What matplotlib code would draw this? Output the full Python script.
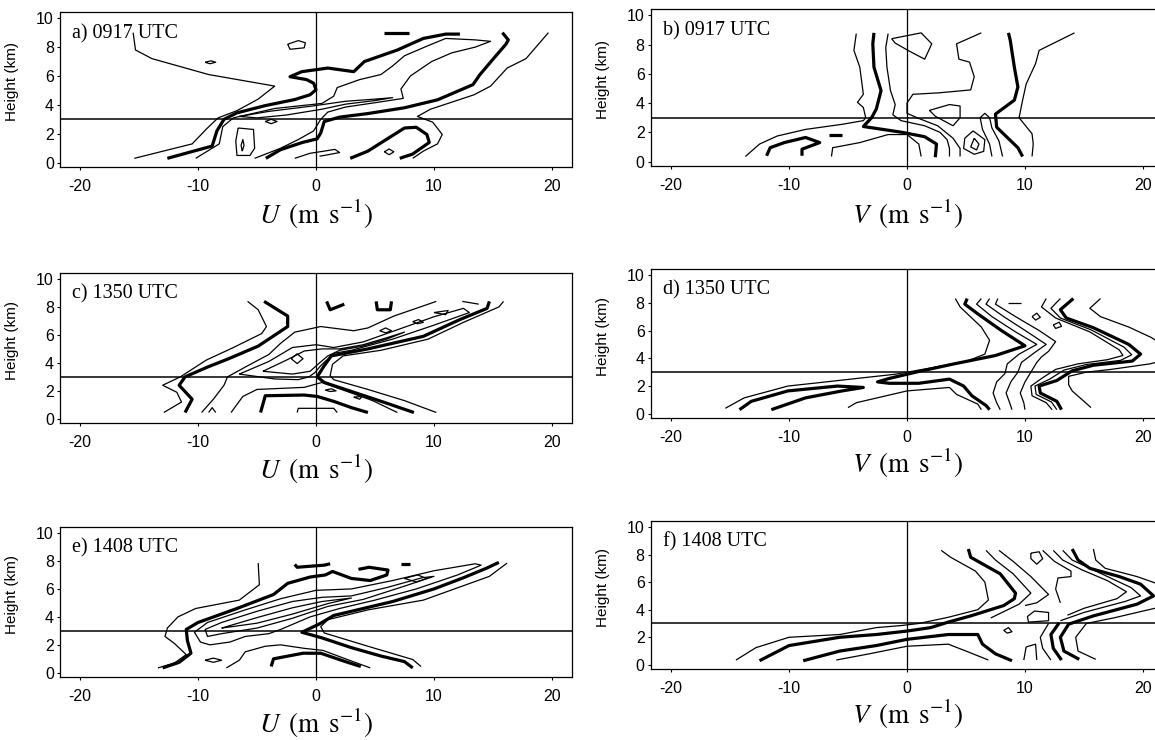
import numpy as np
import matplotlib
matplotlib.use('Agg')
import matplotlib.pyplot as plt

plt.rcParams['font.family'] = ['Liberation Sans', 'DejaVu Sans']
plt.rcParams['mathtext.fontset'] = 'stix'
plt.rcParams['axes.unicode_minus'] = False

# Contour lines of the wind-by-height frequency diagrams, as (wind m/s, height km)

# a) U at 0917 UTC
a_thin_left = [(-15.5, 9.0), (-15.3, 7.8), (-13.9, 7.2), (-9.1, 6.1), (-3.5, 5.3), (-4.9, 4.4),
               (-6.7, 3.6), (-8.3, 3.1), (-9.2, 2.4), (-10.5, 1.3), (-15.4, 0.3)]
a_thin_right = [(19.7, 9.0), (17.8, 7.2), (16.2, 6.55), (14.8, 5.3), (13.4, 4.7), (9.7, 3.7),
                (8.6, 3.2), (9.9, 2.8), (10.7, 1.95), (10.3, 1.3), (9.1, 0.8), (8.2, 0.3)]
a_thick_left = [(-12.6, 0.3), (-8.8, 1.15), (-8.4, 2.2), (-7.8, 3.0), (-6.7, 3.45), (-4.3, 3.95),
                (-1.8, 4.37), (-0.5, 4.7), (0.0, 5.05), (-0.2, 5.5), (-0.8, 5.75), (-2.2, 5.95),
                (-1.2, 6.3), (1.0, 6.55), (3.2, 6.3), (4.1, 7.0), (6.9, 7.8), (9.1, 8.6),
                (11.0, 8.9), (12.2, 8.9)]
a_thick_right = [(15.8, 9.0), (16.3, 8.5), (16.1, 8.2), (15.2, 7.35), (13.9, 6.1), (13.3, 5.4),
                 (10.3, 4.35), (7.5, 3.8), (4.4, 3.4), (2.0, 3.15), (0.7, 2.85), (0.4, 2.05),
                 (0.1, 1.65), (-1.15, 1.4), (-3.0, 0.9), (-4.25, 0.3)]
a_thick_low = [(2.9, 0.3), (4.4, 0.8), (7.5, 2.4), (8.5, 2.45), (9.4, 1.95), (9.6, 1.4),
               (8.2, 0.6), (7.1, 0.3)]
a_thick_top = [(5.8, 9.0), (7.9, 9.0)]
a_thin_mid = [(-10.2, 0.3), (-8.2, 1.3), (-7.9, 2.5), (-7.0, 3.1), (-3.5, 3.75), (0.5, 4.1),
              (1.5, 4.6), (1.8, 5.2), (3.7, 5.75), (5.5, 6.1), (6.5, 6.7), (7.5, 7.4),
              (9.5, 8.1), (11.0, 8.6), (13.5, 8.5), (14.8, 8.4), (13.5, 8.0), (11.5, 7.6),
              (9.8, 7.0), (8.0, 6.0), (7.2, 5.1), (7.4, 4.45), (5.0, 4.15), (2.5, 3.85),
              (1.0, 3.5), (0.4, 3.0), (-0.2, 2.2), (-1.5, 1.6), (-3.0, 1.0), (-5.2, 0.3)]
a_band_loop = [(-6.5, 3.2), (-4.0, 3.55), (-0.5, 3.9), (2.5, 4.25), (5.0, 4.4), (6.5, 4.5),
               (5.0, 4.3), (2.5, 4.05), (0.5, 3.7), (-2.5, 3.3), (-5.0, 3.1), (-6.5, 3.2)]
a_loop_core = [(-6.6, 2.4), (-5.3, 2.3), (-5.2, 1.0), (-5.6, 0.5), (-6.7, 0.5), (-6.8, 1.5), (-6.6, 2.4)]
a_loop_tear = [(-6.25, 0.8), (-6.1, 1.2), (-6.2, 1.6), (-6.35, 1.2), (-6.25, 0.8)]
a_loop_s1 = [(-4.3, 2.85), (-3.8, 3.0), (-3.3, 2.85), (-3.8, 2.7), (-4.3, 2.85)]
a_loop_top = [(-2.4, 8.2), (-1.5, 8.45), (-0.9, 8.3), (-1.0, 7.95), (-2.2, 7.85), (-2.4, 8.2)]
a_loop_tiny = [(-9.4, 6.95), (-8.9, 7.05), (-8.5, 6.95), (-9.0, 6.85), (-9.4, 6.95)]
a_loop_low = [(5.8, 0.75), (6.2, 0.95), (6.6, 0.75), (6.2, 0.55), (5.8, 0.75)]
a_thin_zero = [(-1.8, 0.3), (-0.5, 0.65), (0.7, 0.8), (1.6, 0.92), (2.0, 0.7), (0.7, 0.5), (0.3, 0.45)]

# b) V at 0917 UTC
b_thin_left = [(-4.3, 8.75), (-4.5, 7.6), (-4.0, 6.45), (-3.7, 4.6), (-4.2, 4.05), (-3.7, 3.7),
               (-3.5, 3.0), (-3.7, 2.8), (-5.5, 2.55), (-8.6, 2.2), (-11.0, 1.75), (-12.5, 1.2),
               (-13.7, 0.35)]
b_thin_right = [(14.2, 8.8), (11.2, 7.6), (10.9, 6.7), (10.1, 5.3), (9.8, 4.2), (9.5, 3.0),
                (10.6, 1.9), (10.7, 1.2), (10.6, 0.35)]
b_thick_left = [(-2.8, 8.8), (-2.9, 8.05), (-2.8, 6.45), (-2.2, 4.85), (-2.6, 3.6), (-3.0, 3.0),
                (-3.7, 2.4), (-0.4, 2.0), (1.5, 1.7), (2.5, 1.2), (2.4, 0.3)]
b_thick_right = [(8.6, 8.8), (8.75, 8.3), (9.1, 6.45), (9.4, 5.1), (9.1, 4.2), (7.5, 3.25),
                 (7.6, 2.35), (8.5, 1.65), (9.4, 0.95), (9.8, 0.35)]
b_thick_hook = [(-11.9, 0.4), (-11.6, 0.95), (-10.4, 1.3), (-8.6, 1.65), (-7.4, 1.3), (-8.9, 0.85), (-8.9, 0.4)]
b_thick_dash = [(-6.6, 1.8), (-5.5, 1.8)]
b_thin_inner = [(-1.6, 8.75), (-1.8, 7.8), (-1.7, 6.45), (-1.4, 4.85), (-1.0, 3.9), (-1.2, 3.2),
                (-0.5, 2.8), (1.5, 2.45), (2.8, 2.0), (3.4, 1.5), (3.6, 0.9), (3.6, 0.35)]
b_thin_low = [(-6.4, 0.35), (-6.3, 0.95), (-4.0, 1.3), (-1.6, 1.85), (0.0, 1.85), (1.0, 1.2), (1.2, 0.35)]
b_thin_upper = [(6.3, 8.8), (4.2, 8.05), (4.4, 7.0), (5.3, 6.8), (5.7, 5.8), (5.4, 4.9), (2.7, 4.7),
                (0.5, 4.6), (0.0, 4.0), (0.0, 3.3), (1.0, 2.95), (2.6, 2.45), (3.9, 1.6), (4.5, 0.9),
                (4.5, 0.35)]
b_loop_mid = [(1.9, 3.5), (3.6, 3.9), (4.5, 3.8), (4.5, 3.0), (3.9, 2.45), (2.4, 3.1), (1.9, 3.5)]
b_loop_top = [(-1.3, 8.4), (1.2, 8.8), (2.1, 8.05), (1.5, 7.0), (0.2, 7.55), (-1.0, 8.1), (-1.3, 8.4)]
b_thin_u = [(7.2, 0.35), (7.0, 1.2), (6.4, 2.2), (6.2, 3.0), (6.6, 3.3), (7.0, 3.0), (7.2, 2.3),
            (7.8, 1.4), (8.1, 0.35)]
b_loop_low = [(5.6, 2.1), (6.6, 1.5), (6.5, 0.7), (5.7, 0.5), (4.8, 0.9), (4.9, 1.6), (5.6, 2.1)]
b_loop_low_in = [(5.7, 1.6), (6.1, 1.2), (5.9, 0.8), (5.4, 1.0), (5.7, 1.6)]

# c) U at 1350 UTC
c_thin_left = [(-12.9, 0.45), (-11.4, 1.2), (-11.8, 1.9), (-13.0, 2.4), (-11.5, 3.0), (-9.3, 4.2),
               (-7.0, 5.1), (-4.6, 6.1), (-4.2, 6.6), (-4.9, 7.8), (-5.8, 8.4)]
c_thick_left = [(-11.1, 0.45), (-10.5, 1.4), (-11.6, 2.4), (-11.1, 3.0), (-9.2, 3.7), (-7.4, 4.3),
                (-4.9, 5.2), (-2.4, 6.6), (-2.4, 7.35), (-4.4, 8.4)]
c_thin_band = [(-9.7, 0.45), (-8.7, 1.4), (-7.8, 2.4), (-7.5, 3.0), (-6.0, 3.7), (-4.0, 4.6),
               (-3.0, 5.4), (-1.8, 6.2), (0.4, 6.6), (3.2, 6.3), (4.4, 6.5), (6.6, 7.35), (10.2, 8.4)]
c_thick_right = [(14.7, 8.4), (14.5, 7.9), (12.2, 7.1), (9.1, 5.9), (4.4, 5.0), (1.3, 4.5),
                 (0.7, 3.8), (0.1, 3.0), (0.7, 2.6), (3.2, 1.9), (5.7, 1.2), (8.3, 0.45)]
c_thin_right = [(15.9, 8.4), (15.5, 8.0), (12.5, 6.9), (9.5, 5.7), (5.5, 4.9), (2.3, 4.5),
                (1.4, 3.9), (1.2, 3.1), (1.5, 2.8), (4.4, 2.1), (7.5, 1.3), (10.2, 0.45)]
c_loop1 = [(-6.5, 3.2), (-4.0, 4.1), (-2.0, 5.1), (0.0, 5.3), (1.5, 5.1), (4.0, 5.5), (7.0, 6.4),
           (10.0, 7.3), (12.5, 7.9), (13.0, 7.6), (10.0, 6.7), (6.5, 5.7), (3.0, 4.9), (1.6, 4.7),
           (0.9, 4.2), (0.4, 3.8), (-0.1, 3.3), (-0.6, 3.0), (-1.5, 2.8), (-3.5, 2.85), (-6.5, 3.2)]
c_loop2 = [(-4.5, 3.4), (-2.5, 4.2), (-1.0, 4.85), (0.5, 5.0), (2.0, 5.0), (4.0, 5.3), (6.0, 5.8),
           (7.5, 6.2), (6.0, 5.7), (4.0, 5.2), (2.0, 4.9), (1.0, 4.5), (0.3, 4.0), (-0.5, 3.4),
           (-2.0, 3.2), (-4.5, 3.4)]
c_diamond = [(-2.1, 4.3), (-1.6, 4.65), (-1.1, 4.3), (-1.6, 3.95), (-2.1, 4.3)]
c_small1 = [(5.4, 6.3), (5.9, 6.5), (6.4, 6.3), (5.9, 6.15), (5.4, 6.3)]
c_small2 = [(8.2, 6.95), (8.7, 7.1), (9.1, 6.9), (8.6, 6.8), (8.2, 6.95)]
c_small3 = [(10.0, 7.6), (11.2, 7.75), (11.0, 7.45), (10.0, 7.6)]
c_small4 = [(0.8, 2.05), (1.3, 2.15), (1.7, 2.0), (1.2, 1.95), (0.8, 2.05)]
c_small5 = [(3.2, 1.55), (3.9, 1.6), (3.7, 1.4), (3.2, 1.55)]
c_thick_v = [(0.9, 8.4), (1.2, 7.8), (2.4, 8.2)]
c_thick_u = [(5.1, 8.4), (5.2, 7.8), (6.3, 7.8), (6.4, 8.4)]
c_thin_top = [(12.4, 8.4), (13.8, 8.2)]
c_thick_low = [(-4.7, 0.45), (-4.3, 1.65), (-1.0, 1.7), (0.1, 1.6), (1.5, 1.25), (3.0, 0.8), (4.4, 0.45)]
c_thin_low = [(-7.2, 0.45), (-6.2, 1.6), (-5.0, 2.1), (-1.0, 2.25), (0.5, 2.6), (2.5, 2.0),
              (4.8, 1.3), (6.9, 0.45)]
c_thin_arch = [(-1.6, 0.45), (-1.5, 0.75), (1.5, 0.75), (1.8, 0.45)]
c_caret = [(-9.1, 0.45), (-8.8, 0.8), (-8.5, 0.45)]

# d) V at 1350 UTC
d_thin_outer = [(4.1, 8.3), (4.5, 7.7), (6.3, 6.25), (7.0, 5.3), (6.6, 4.3), (5.1, 3.8), (2.0, 3.3),
                (0.0, 3.0), (-1.0, 2.85), (-3.7, 2.6), (-7.4, 2.25), (-10.1, 2.0), (-13.8, 1.15),
                (-15.4, 0.4)]
d_thick_hook = [(-14.2, 0.3), (-13.2, 0.9), (-10.1, 1.65), (-5.9, 2.0), (-3.7, 1.9), (-5.5, 1.65),
                (-8.6, 1.15), (-11.5, 0.3)]
d_thin_low = [(-5.0, 0.45), (-4.3, 0.8), (0.0, 1.65), (3.6, 1.9), (4.2, 1.4), (6.0, 0.7), (6.3, 0.3)]
d_thick_band = [(5.1, 8.3), (4.9, 7.9), (6.0, 7.2), (8.0, 6.0), (10.0, 4.9), (7.5, 4.2), (4.0, 3.6),
                (1.0, 3.05), (-1.5, 2.55), (-2.5, 2.3), (-1.5, 2.2), (1.0, 2.2), (3.6, 2.5),
                (4.8, 2.0), (5.5, 1.3), (6.7, 0.6), (7.0, 0.3)]
d_chev1 = [(6.3, 8.3), (5.9, 7.9), (7.2, 7.0), (9.2, 5.9), (11.0, 5.0), (9.5, 4.3), (8.5, 3.6),
           (8.3, 2.9), (7.6, 2.3), (7.3, 1.5), (7.6, 0.8), (7.9, 0.3)]
d_chev2 = [(7.0, 8.3), (6.7, 7.9), (8.2, 7.0), (10.2, 5.9), (11.8, 5.0), (10.8, 4.4), (9.7, 3.7),
           (9.4, 3.0), (8.8, 2.3), (8.4, 1.5), (8.7, 0.8), (8.9, 0.3)]
d_chev3 = [(7.7, 8.3), (7.5, 7.9), (9.2, 7.0), (11.2, 6.0), (12.6, 5.2), (12.0, 4.5), (11.4, 4.1),
           (11.0, 3.7), (10.5, 3.0), (10.0, 2.3), (9.6, 1.5), (9.9, 0.8), (10.0, 0.3)]
d_thick_right = [(14.1, 8.3), (13.0, 7.5), (13.5, 6.9), (15.8, 6.2), (18.8, 5.0), (19.8, 4.3),
                 (19.1, 3.8), (15.8, 3.5), (14.0, 3.1), (12.7, 2.4), (11.2, 2.0), (11.3, 1.5),
                 (12.7, 0.9), (13.1, 0.3)]
d_nest1 = [(11.8, 8.3), (11.4, 7.7), (12.6, 6.9), (15.5, 5.9), (18.0, 4.6), (18.3, 4.2), (17.0, 3.9),
           (14.5, 3.6), (12.6, 3.2), (11.5, 2.6), (10.5, 2.0), (10.6, 1.3), (11.8, 0.8), (12.3, 0.3)]
d_nest2 = [(13.0, 8.3), (12.2, 7.6), (13.0, 6.9), (15.6, 6.05), (18.4, 4.8), (19.05, 4.25),
           (18.1, 3.85), (15.2, 3.55), (13.3, 3.15), (12.1, 2.5), (10.85, 2.0), (10.95, 1.4),
           (12.25, 0.85), (12.7, 0.3)]
d_thin_right = [(16.4, 8.3), (15.5, 7.6), (16.4, 7.0), (18.8, 6.25), (20.7, 5.5), (22.0, 4.8),
                (22.5, 4.3), (22.0, 3.9), (20.6, 3.6), (17.3, 3.2), (15.2, 3.0), (13.7, 2.7),
                (13.7, 2.1), (14.0, 1.65), (15.6, 0.45)]
d_small1 = [(10.6, 7.0), (11.0, 7.25), (11.3, 6.95), (10.9, 6.75), (10.6, 7.0)]
d_small2 = [(12.4, 6.4), (12.9, 6.6), (13.1, 6.3), (12.6, 6.15), (12.4, 6.4)]
d_thin_top = [(8.6, 8.0), (9.7, 8.0)]

# e) U at 1408 UTC
e_thin_left = [(-4.9, 7.85), (-4.8, 6.3), (-6.5, 5.2), (-10.2, 4.6), (-11.7, 4.0), (-12.6, 3.2),
               (-12.8, 2.6), (-12.0, 2.1), (-11.0, 1.3), (-12.0, 0.7), (-13.4, 0.35)]
e_thick_left = [(-13.0, 0.35), (-11.6, 0.75), (-10.6, 1.4), (-10.9, 2.3), (-11.0, 3.1), (-10.0, 3.6),
                (-6.7, 4.6), (-3.6, 5.6), (-2.4, 6.4), (-0.5, 6.85), (0.8, 7.0), (1.4, 7.25),
                (3.0, 6.75), (4.6, 6.6), (6.0, 7.0), (6.1, 7.35), (4.5, 7.55), (3.6, 7.4)]
e_thick_dash1 = [(-1.8, 7.75), (-1.6, 7.55), (0.7, 7.7), (1.2, 7.8)]
e_thick_dash2 = [(7.2, 7.8), (8.0, 7.8)]
e_thick_right = [(15.5, 7.9), (14.5, 7.5), (12.5, 6.8), (10.0, 6.0), (6.5, 5.1), (3.5, 4.5),
                 (1.5, 4.1), (0.3, 3.5), (-1.2, 2.9), (0.5, 2.5), (3.0, 1.8), (5.5, 1.2),
                 (7.5, 0.8), (8.2, 0.35)]
e_thin_right = [(16.2, 7.85), (14.7, 6.9), (9.1, 5.2), (4.4, 4.5), (1.0, 3.8), (0.4, 3.3),
                (0.7, 2.85), (4.4, 1.9), (8.2, 0.95), (8.9, 0.45)]
e_thick_low = [(-3.8, 0.45), (-3.6, 1.0), (-1.1, 1.4), (0.4, 1.4), (2.5, 0.8), (3.8, 0.45)]
e_loop1 = [(-9.8, 2.2), (-10.3, 2.9), (-9.2, 3.6), (-6.0, 4.5), (-3.0, 5.3), (0.0, 5.9), (3.0, 6.0),
           (6.5, 6.6), (10.0, 7.3), (13.5, 7.8), (14.0, 7.7), (12.0, 7.0), (8.5, 6.0), (5.0, 5.2),
           (2.0, 4.6), (-0.5, 4.0), (-3.0, 3.1), (-4.0, 2.8), (-6.0, 2.6), (-7.3, 2.2),
           (-9.0, 2.0), (-9.8, 2.2)]
e_loop2 = [(-9.2, 2.6), (-9.4, 3.1), (-8.0, 3.6), (-5.0, 4.4), (-2.0, 5.1), (0.5, 5.4), (3.0, 5.5),
           (6.0, 6.1), (9.0, 6.8), (10.0, 6.9), (7.5, 6.2), (4.0, 5.25), (1.0, 4.75), (-2.0, 3.9),
           (-5.0, 3.2), (-8.0, 2.8), (-9.2, 2.6)]
e_loop3 = [(-8.0, 3.2), (-5.0, 3.95), (-2.0, 4.65), (0.5, 5.1), (3.0, 5.35), (1.0, 4.95),
           (-2.0, 4.2), (-5.0, 3.55), (-8.0, 3.2)]
e_diamond_r = [(7.5, 6.75), (8.6, 7.0), (9.4, 6.75), (8.5, 6.5), (7.5, 6.75)]
e_small_low = [(-9.4, 0.9), (-8.7, 1.05), (-8.0, 0.9), (-8.7, 0.75), (-9.4, 0.9)]
e_thin_low = [(-7.6, 0.35), (-6.5, 0.9), (-6.0, 1.5), (-4.3, 1.9), (-3.0, 2.0), (-1.0, 1.75),
              (0.6, 1.6), (2.5, 1.0), (4.6, 0.35)]

# f) V at 1408 UTC
f_thin_outer = [(2.9, 8.3), (3.7, 7.8), (5.8, 6.8), (6.6, 6.0), (6.9, 4.7), (6.0, 4.0), (3.5, 3.45),
                (1.0, 3.0), (-0.5, 2.85), (-2.6, 2.7), (-5.7, 2.2), (-10.0, 2.0), (-12.8, 1.25),
                (-14.5, 0.35)]
f_thick_band = [(5.2, 8.4), (5.4, 7.8), (7.9, 6.6), (9.2, 5.2), (9.1, 4.8), (8.2, 4.3), (5.4, 3.55),
                (3.5, 3.1), (2.0, 2.7), (0.0, 2.45), (-2.6, 2.2), (-5.7, 2.0), (-10.0, 1.4),
                (-12.5, 0.3)]
f_thick_low = [(-8.8, 0.3), (-5.7, 1.0), (-2.6, 1.4), (0.0, 1.85), (3.5, 2.2), (6.0, 2.2),
               (6.4, 1.5), (7.5, 0.8), (8.9, 0.3)]
f_thin_low = [(-6.0, 0.35), (-3.2, 0.8), (0.0, 1.35), (3.5, 1.5), (5.0, 1.0), (6.9, 0.35)]
f_chev1 = [(6.7, 8.3), (7.5, 7.6), (9.0, 6.6), (10.5, 5.2), (9.5, 4.4), (7.1, 3.4)]
f_chev2 = [(7.8, 8.3), (9.0, 7.5), (10.5, 6.4), (12.0, 5.1), (11.0, 4.5), (10.0, 4.3)]
f_chev3 = [(11.5, 8.3), (12.5, 7.5), (13.9, 6.8), (13.9, 6.4), (12.8, 6.3), (12.6, 5.5), (13.0, 4.5)]
f_nest = [(13.2, 8.3), (14.0, 7.6), (16.5, 6.6), (19.0, 5.6), (19.8, 5.0), (18.5, 4.6), (15.0, 3.8),
          (13.0, 3.2)]
f_nest2 = [(12.4, 8.3), (13.2, 7.6), (14.8, 6.9), (17.0, 6.1), (18.6, 5.3), (17.8, 4.8), (15.0, 4.1),
           (13.6, 3.6)]
f_loop_top = [(10.5, 8.1), (11.2, 8.2), (11.5, 7.7), (11.0, 7.3), (10.5, 7.7), (10.5, 8.1)]
f_loop_mid = [(10.2, 3.5), (10.8, 3.9), (12.0, 3.8), (12.0, 3.2), (10.3, 3.1), (10.2, 3.5)]
f_diamond = [(8.2, 2.5), (8.6, 2.7), (8.9, 2.4), (8.5, 2.3), (8.2, 2.5)]
f_thick_right = [(14.0, 8.4), (14.5, 7.6), (15.5, 7.0), (18.0, 6.4), (19.8, 5.85), (20.9, 5.0),
                 (19.5, 4.4), (15.8, 3.55), (13.7, 2.95), (13.0, 2.0), (13.3, 1.0), (14.6, 0.4)]
f_thick_right2 = [(12.9, 3.05), (12.2, 2.2), (12.4, 1.2), (13.1, 0.35)]
f_thin_right = [(15.8, 8.4), (16.0, 7.6), (16.8, 7.0), (19.5, 6.4), (21.5, 5.8), (22.5, 5.0),
                (21.5, 4.2), (17.5, 3.4), (15.2, 3.0), (14.3, 2.0), (14.5, 1.0), (16.0, 0.4)]
f_thin_v = [(12.0, 3.0), (11.3, 2.0), (11.5, 1.2), (12.2, 0.35)]
f_thin_pi = [(9.9, 0.35), (10.1, 1.3), (10.9, 1.5), (11.0, 0.35)]

THIN = 0.9
THICK = 2.3

panels = [
    ('a) 0917 UTC', 'U', [(a_thin_left, THIN), (a_thin_right, THIN), (a_thick_left, THICK),
                          (a_thick_right, THICK), (a_thick_low, THICK), (a_thick_top, THICK),
                          (a_thin_mid, THIN), (a_band_loop, THIN), (a_loop_core, THIN),
                          (a_loop_tear, THIN), (a_loop_s1, THIN), (a_loop_top, THIN),
                          (a_loop_tiny, THIN), (a_loop_low, THIN), (a_thin_zero, THIN)]),
    ('b) 0917 UTC', 'V', [(b_thin_left, THIN), (b_thin_right, THIN), (b_thick_left, THICK),
                          (b_thick_right, THICK), (b_thick_hook, THICK), (b_thick_dash, THICK),
                          (b_thin_inner, THIN), (b_thin_low, THIN), (b_thin_upper, THIN),
                          (b_loop_mid, THIN), (b_loop_top, THIN), (b_thin_u, THIN),
                          (b_loop_low, THIN), (b_loop_low_in, THIN)]),
    ('c) 1350 UTC', 'U', [(c_thin_left, THIN), (c_thick_left, THICK), (c_thin_band, THIN),
                          (c_thick_right, THICK), (c_thin_right, THIN), (c_loop1, THIN),
                          (c_loop2, THIN), (c_diamond, THIN), (c_small1, THIN), (c_small2, THIN),
                          (c_small3, THIN), (c_small4, THIN), (c_small5, THIN), (c_thick_v, THICK),
                          (c_thick_u, THICK), (c_thin_top, THIN), (c_thick_low, THICK),
                          (c_thin_low, THIN), (c_thin_arch, THIN), (c_caret, THIN)]),
    ('d) 1350 UTC', 'V', [(d_thin_outer, THIN), (d_thick_hook, THICK), (d_thin_low, THIN),
                          (d_thick_band, THICK), (d_chev1, THIN), (d_chev2, THIN), (d_chev3, THIN),
                          (d_thick_right, THICK), (d_nest1, THIN), (d_nest2, THIN),
                          (d_thin_right, THIN), (d_small1, THIN), (d_small2, THIN),
                          (d_thin_top, THIN)]),
    ('e) 1408 UTC', 'U', [(e_thin_left, THIN), (e_thick_left, THICK), (e_thick_dash1, THICK),
                          (e_thick_dash2, THICK), (e_thick_right, THICK), (e_thin_right, THIN),
                          (e_thick_low, THICK), (e_loop1, THIN), (e_loop2, THIN), (e_loop3, THIN),
                          (e_diamond_r, THIN), (e_small_low, THIN), (e_thin_low, THIN)]),
    ('f) 1408 UTC', 'V', [(f_thin_outer, THIN), (f_thick_band, THICK), (f_thick_low, THICK),
                          (f_thin_low, THIN), (f_chev1, THIN), (f_chev2, THIN), (f_chev3, THIN),
                          (f_nest, THIN), (f_nest2, THIN), (f_loop_top, THIN), (f_loop_mid, THIN),
                          (f_diamond, THIN), (f_thick_right, THICK), (f_thick_right2, THICK),
                          (f_thin_right, THIN), (f_thin_v, THIN), (f_thin_pi, THIN)]),
]

# axes boxes in pixels: left, top, bottom (width is the same for all)
W, H = 1155, 740
boxes = [(60, 12, 167), (651, 9, 166), (60, 273, 423), (651, 269, 418), (60, 527, 677), (651, 521, 669)]
box_w = 512

fig = plt.figure(figsize=(W / 100, H / 100), dpi=100)

for (label, comp, curves), (left, top, bottom) in zip(panels, boxes):
    ax = fig.add_axes([left / W, 1 - bottom / H, box_w / W, (bottom - top) / H])
    for pts, lw in curves:
        uv = np.array(pts)
        ax.plot(uv[:, 0], uv[:, 1], color='black', lw=lw, solid_joinstyle='round',
                solid_capstyle='butt')
    ax.axhline(3, color='black', lw=1.1)
    ax.axvline(0, color='black', lw=0.9)

    ax.set_xlim(-21.7, 21.7)
    ax.set_ylim(-0.3, 10.43)
    ax.set_xticks([-20, -10, 0, 10, 20])
    ax.set_yticks([0, 2, 4, 6, 8, 10])
    ax.tick_params(axis='x', direction='out', length=2.5, width=0.8, pad=6, labelsize=11.5)
    ax.tick_params(axis='y', direction='out', length=2.5, width=0.8, pad=2, labelsize=11.5)
    for sp in ax.spines.values():
        sp.set_linewidth(0.9)

    ax.text(0.023, 0.86, label, transform=ax.transAxes, fontsize=14.5,
            family='Liberation Serif', va='center', ha='left')
    ax.set_ylabel('Height (km)', fontsize=11)
    ax.yaxis.set_label_coords(-0.08, 0.55)
    ax.text(0.5, -0.37, r'$%s\ \,(\mathrm{m\ \,s^{-1}})$' % comp, transform=ax.transAxes,
            fontsize=19.5, ha='center', va='baseline')

fig.savefig('out.png', dpi=100)
